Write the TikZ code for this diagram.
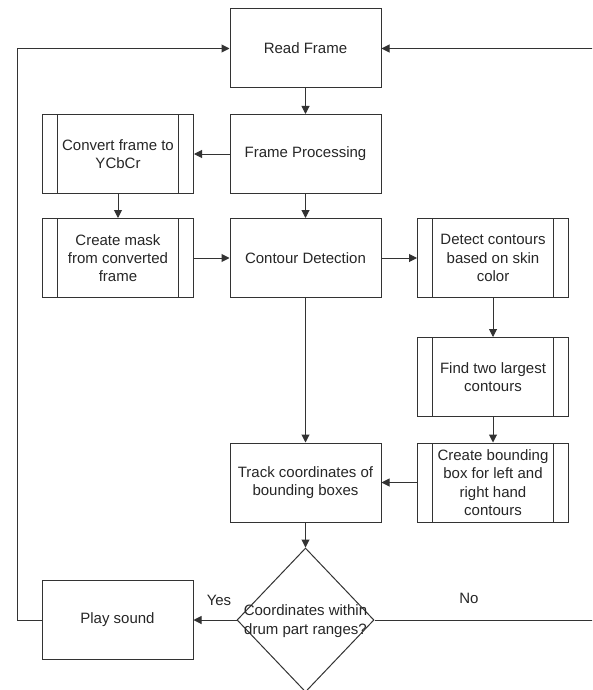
\documentclass[tikz,border=0pt]{standalone}
\usepackage{fontspec}
\setmainfont{Liberation Sans}
\usetikzlibrary{arrows.meta,shapes.geometric}
\definecolor{linec}{HTML}{333333}
\definecolor{textc}{HTML}{262626}
\begin{document}
\begin{tikzpicture}[x=1pt,y=-1pt,
  txt/.style={font=\fontsize{15}{18.3}\selectfont, text=textc, align=center},
  box/.style={txt, draw=linec, line width=1pt, minimum width=151pt, minimum height=79pt, inner sep=0pt},
  subproc/.style={box, path picture={
      \draw[linec, line width=1pt] ([xshift=15pt]path picture bounding box.north west) -- ([xshift=15pt]path picture bounding box.south west);
      \draw[linec, line width=1pt] ([xshift=-15pt]path picture bounding box.north east) -- ([xshift=-15pt]path picture bounding box.south east);}},
  arr/.style={draw=linec, line width=1pt, -{Triangle[length=8pt,width=8pt]}},
  ln/.style={draw=linec, line width=1pt}]
\useasboundingbox (0,0) rectangle (592,690);
\clip (0,0) rectangle (592,690);
\node[box] (read) at (305.5,48.5) {Read Frame};
\node[box] (fp) at (305.5,154) {Frame Processing};
\node[subproc] (conv) at (118,154) {Convert frame to\\YCbCr};
\node[subproc] (mask) at (118,258) {Create mask\\from converted\\frame};
\node[box] (cont) at (305.5,258) {Contour Detection};
\node[subproc] (det) at (493,258) {Detect contours\\based on skin\\color};
\node[subproc] (find) at (493,377) {Find two largest\\contours};
\node[subproc] (cbb) at (493,482.5) {Create bounding\\box for left and\\right hand\\contours};
\node[box] (track) at (305.5,482.5) {Track coordinates of\\bounding boxes};
\node[box] (play) at (117.5,620) {Play sound};
\node[diamond, draw=linec, line width=1pt, minimum width=137pt, minimum height=144pt, inner sep=0pt] (dec) at (305.5,620) {};
\node[txt, inner sep=0pt] (dectext) at (305.5,621) {Coordinates within\\drum part ranges?};
\node[txt, inner sep=0pt] (yes) at (219,600) {Yes};
\node[txt, inner sep=0pt] (no) at (469,598) {No};
\coordinate (lb) at (17,620);
\coordinate (lt) at (17,48.5);
\coordinate (rb) at (600,620);
\coordinate (rt) at (600,48.5);

\draw[arr] (read) -- (fp);
\draw[arr] (fp) -- (conv);
\draw[arr] (conv) -- (mask);
\draw[arr] (fp) -- (cont);
\draw[arr] (mask) -- (cont);
\draw[arr] (cont) -- (det);
\draw[arr] (det) -- (find);
\draw[arr] (find) -- (cbb);
\draw[arr] (cbb) -- (track);
\draw[arr] (cont) -- (track);
\draw[arr] (track) -- (dec.north);
\draw[arr] (dec.west) -- (play);
\draw[arr] (play.west) -- (lb) -- (lt) -- (read.west);
\draw[arr] (dec.east) -- (rb) -- (rt) -- (read.east);
\end{tikzpicture}
\end{document}
